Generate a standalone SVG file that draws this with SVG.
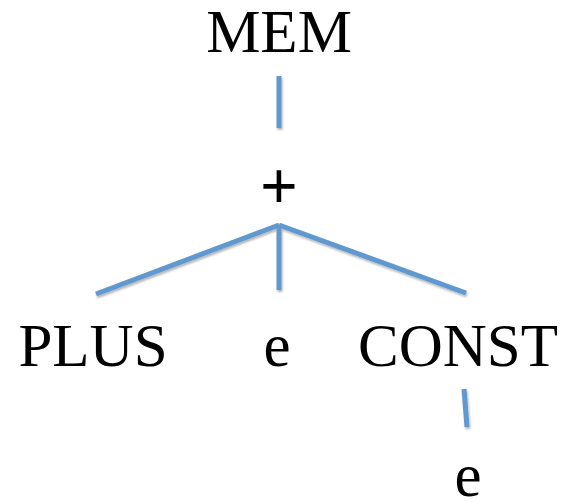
<svg xmlns="http://www.w3.org/2000/svg" width="573" height="502" viewBox="0 0 573 502">
<defs>
<filter id="sh" x="-20%" y="-20%" width="140%" height="140%">
<feDropShadow dx="1" dy="2" stdDeviation="1.2" flood-color="#000" flood-opacity="0.3"/>
</filter>
</defs>
<style>
text{font-family:"Liberation Serif","Times New Roman",serif;font-size:61px;fill:#000;text-anchor:middle}
.sans{font-family:"Liberation Sans",Arial,sans-serif;font-size:64px}
.e line{stroke:#6199CF;stroke-width:5;fill:none}
</style>
<rect width="573" height="502" fill="#fff"/>
<g class="e" id="connectors" filter="url(#sh)">
<line x1="279" y1="76" x2="279" y2="128"/>
<line x1="279" y1="225" x2="96" y2="294"/>
<line x1="279" y1="225" x2="466" y2="293"/>
<line x1="279" y1="225" x2="279" y2="290"/>
<line x1="464" y1="389" x2="467" y2="427"/>
</g>
<g id="n-mem"><text x="279" y="52">MEM</text></g>
<g id="n-plus"><text class="sans" x="279" y="208">+</text></g>
<g id="n-PLUS"><text x="93" y="366">PLUS</text></g>
<g id="n-e1"><text x="277" y="366">e</text></g>
<g id="n-const"><text x="458" y="366">CONST</text></g>
<g id="n-e2"><text x="468" y="496">e</text></g>
</svg>
